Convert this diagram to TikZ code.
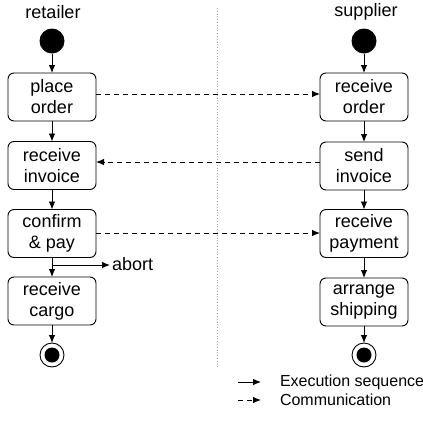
\documentclass[tikz,border=0pt]{standalone}
\usepackage{fontspec}
\setmainfont{Liberation Sans}
\usetikzlibrary{arrows.meta}
\begin{document}
\begin{tikzpicture}[x=1pt,y=-1pt,
  every node/.style={inner sep=0pt, outer sep=0pt},
  act/.style={draw, line width=0.9pt, rounded corners=6pt, minimum width=88pt, minimum height=48pt, align=center, font=\fontsize{18}{21}\selectfont},
  startnode/.style={circle, fill=black, minimum size=25pt},
  endnode/.style={circle, draw, line width=0.9pt, minimum size=24pt},
  endinner/.style={circle, fill=black, minimum size=15pt},
  seq/.style={line width=0.9pt, -{Latex[length=8pt,width=6.5pt]}},
  comm/.style={line width=0.9pt, dash pattern=on 5pt off 4pt, -{Latex[length=8pt,width=6.5pt]}},
  title/.style={font=\fontsize{18}{21}\selectfont},
  legtext/.style={font=\fontsize{16}{19}\selectfont, anchor=west}
]
\useasboundingbox (0,0) rectangle (423,421);

% divider
\draw[gray!70, line width=0.8pt, dotted] (217,8) -- (217,368);

% titles
\node[title] (tr) at (53,12) {retailer};
\node[title] (ts) at (366,12) {supplier};

% left lane
\node[startnode] (ls) at (52,41) {};
\node[act] (po) at (52,97) {place\\order};
\node[act] (ri) at (52,165.5) {receive\\invoice};
\node[act] (cp) at (52,233.5) {confirm\\\& pay};
\node[act] (rc) at (52,301) {receive\\cargo};
\node[endnode] (le) at (52,355) {};
\node[endinner] (lei) at (52,355) {};

% right lane
\node[startnode] (rs) at (364,41) {};
\node[act] (ro) at (364,97) {receive\\order};
\node[act] (si) at (364,166) {send\\invoice};
\node[act] (rp) at (364,233.5) {receive\\payment};
\node[act] (as) at (364,302) {arrange\\shipping};
\node[endnode] (re) at (364,355) {};
\node[endinner] (rei) at (364,355) {};

% execution sequence
\draw[seq] (ls) -- (po);
\draw[seq] (po) -- (ri);
\draw[seq] (ri) -- (cp);
\draw[seq] (cp) -- (rc);
\draw[seq] (rc) -- (le);
\draw[seq] (rs) -- (ro);
\draw[seq] (ro) -- (si);
\draw[seq] (si) -- (rp);
\draw[seq] (rp) -- (as);
\draw[seq] (as) -- (re);

% abort
\coordinate (ab0) at (52,265);
\coordinate (ab1) at (110,265);
\draw[seq] (ab0) -- (ab1);
\node[title, anchor=west] (abort) at (112,264) {abort};

% communication
\draw[comm] (po.east |- 0,94) -- (ro.west |- 0,94);
\draw[comm] (si.west |- 0,162) -- (ri.east |- 0,162);
\draw[comm] (cp.east |- 0,233) -- (rp.west |- 0,233);

% legend
\coordinate (l1a) at (238,382);
\coordinate (l1b) at (261,382);
\coordinate (l2a) at (238,400);
\coordinate (l2b) at (261,400);
\draw[seq] (l1a) -- (l1b);
\draw[comm] (l2a) -- (l2b);
\node[legtext] (lt1) at (280,382) {Execution sequence};
\node[legtext] (lt2) at (280,400) {Communication};
\end{tikzpicture}
\end{document}
